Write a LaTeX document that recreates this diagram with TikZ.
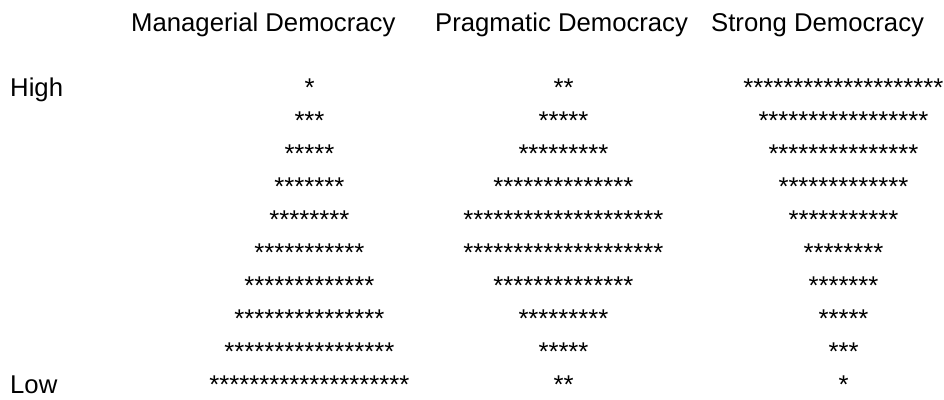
\documentclass[tikz,border=0pt]{standalone}
\usepackage{fontspec}
\setmainfont{Liberation Sans}
\newcommand\astrow[1]{\ifnum#1>0 *\expandafter\astrow\expandafter{\number\numexpr#1-1\relax}\fi}
\begin{document}
\begin{tikzpicture}[x=1pt,y=1pt,
  lbl/.style={inner sep=0pt, anchor=base west, font=\fontsize{25.7}{30}\selectfont},
  astr/.style={inner sep=0pt, anchor=base, font=\fontsize{25.7}{30}\selectfont}]
\useasboundingbox (0,0) rectangle (944,399);
\node[lbl] (hM) at (131,367) {Managerial Democracy};
\node[lbl] (hP) at (435,367) {Pragmatic Democracy};
\node[lbl] (hS) at (711,367) {Strong Democracy};
\node[lbl] (high) at (10,302) {High};
\node[lbl] (low) at (10,6) {Low};
\foreach \n [count=\i from 0] in {1,3,5,7,8,11,13,15,17,20}
  \node[astr] (m\i) at (309.5,{302-\i*32.9}) {\astrow{\n}};
\foreach \n [count=\i from 0] in {2,5,9,14,20,20,14,9,5,2}
  \node[astr] (p\i) at (563.5,{302-\i*32.9}) {\astrow{\n}};
\foreach \n [count=\i from 0] in {20,17,15,13,11,8,7,5,3,1}
  \node[astr] (s\i) at (843.5,{302-\i*32.9}) {\astrow{\n}};
\end{tikzpicture}
\end{document}
